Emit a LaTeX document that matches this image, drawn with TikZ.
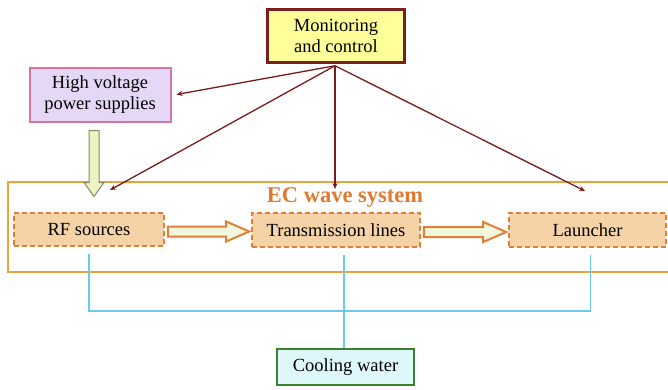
\documentclass[tikz,border=0pt]{standalone}
\usepackage{fontspec}
\setmainfont{Liberation Serif}
\usetikzlibrary{arrows.meta,calc}
\definecolor{montfill}{HTML}{FFFF99}
\definecolor{montdraw}{HTML}{7A1E1E}
\definecolor{hvfill}{HTML}{E4D8F6}
\definecolor{hvdraw}{HTML}{D9739F}
\definecolor{ctrl}{HTML}{7B1A1A}
\definecolor{hvafill}{HTML}{EEF3C4}
\definecolor{hvadraw}{HTML}{8A8A6A}
\definecolor{ecdraw}{HTML}{E8A33A}
\definecolor{ectitle}{HTML}{E07A2E}
\definecolor{subfill}{HTML}{F5D3A6}
\definecolor{subdraw}{HTML}{E07F35}
\definecolor{bafill}{HTML}{EFF8DC}
\definecolor{coolline}{HTML}{6BCBEA}
\definecolor{coolfill}{HTML}{DDF7FA}
\definecolor{cooldraw}{HTML}{3D7F2A}
\tikzset{
  box/.style={rectangle, inner sep=0pt, align=center, font=\fontsize{18.5}{21}\selectfont},
  subbox/.style={box, fill=subfill, draw=subdraw, line width=1.6pt, dash pattern=on 5pt off 3pt},
  ctrlarrow/.style={draw=ctrl, line width=1.3pt, -{Stealth[length=6pt,width=5pt]}},
  coolpipe/.style={draw=coolline, line width=1.2pt},
  blockarrow/.style={fill=bafill, draw=subdraw, line width=2pt, line join=miter},
}
\begin{document}
\begin{tikzpicture}[x=1pt,y=-1pt]
\useasboundingbox (0,0) rectangle (668,389);
\clip (0,0) rectangle (668,389);
% outer EC system box
\draw[ecdraw, line width=2pt] (8,182) rectangle (680,272);
\node[text=ectitle, font=\bfseries\fontsize{22.5}{25}\selectfont] (title) at (345,197.5) {EC wave system};
% nodes
\node[box, fill=montfill, draw=montdraw, line width=2.5pt, minimum width=137pt, minimum height=53pt] (mon) at (336,36) {Monitoring\\and control};
\node[box, fill=hvfill, draw=hvdraw, line width=2pt, minimum width=141pt, minimum height=54pt] (hv) at (100,94.5) {High voltage\\power supplies};
\node[subbox, minimum width=150pt, minimum height=33pt] (rf) at (89,229.5) {RF sources};
\node[subbox, minimum width=168pt, minimum height=34pt] (tl) at (336,230) {Transmission lines};
\node[subbox, minimum width=157pt, minimum height=34pt] (la) at (587.5,230) {Launcher};
\node[box, fill=coolfill, draw=cooldraw, line width=2pt, minimum width=137pt, minimum height=36pt] (cool) at (345.5,367) {Cooling water};
% control arrows
\coordinate (src) at ($(mon.south)+(-1,2)$);
\coordinate (hvend) at ($(hv.east)+(5,0)$);
\coordinate (rfend) at (110,190);
\coordinate (tlend) at (335,189);
\coordinate (laend) at (585,191);
\draw[ctrlarrow] (src) -- (hvend);
\draw[ctrlarrow] (src) -- (rfend);
\draw[ctrlarrow] (src) -- (tlend);
\draw[ctrlarrow] (src) -- (laend);
% HV power arrow
\coordinate (hvtop) at ($(hv.south)+(-6,8)$);
\draw[fill=hvafill, draw=hvadraw, line width=1pt]
  ($(hvtop)+(-5,0)$) -- ($(hvtop)+(5,0)$) -- ($(hvtop)+(5,52)$) -- ($(hvtop)+(10,52)$)
  -- ($(hvtop)+(0,66)$) -- ($(hvtop)+(-10,52)$) -- ($(hvtop)+(-5,52)$) -- cycle;
% block arrows between subsystems
\foreach \a/\b in {rf/tl, tl/la}{
  \coordinate (s) at ($(\a.east)+(3,2)$);
  \coordinate (e) at ($(\b.west)+(-2,2)$);
  \draw[blockarrow]
    let \p1=(s), \p2=(e) in
    (\x1,\y1-5) -- (\x2-23,\y1-5) -- (\x2-23,\y1-10) -- (\x2,\y1)
    -- (\x2-23,\y1+10) -- (\x2-23,\y1+5) -- (\x1,\y1+5) -- cycle;
}
% cooling pipes
\coordinate (rfc) at ($(rf.south)+(0,7)$);
\coordinate (tlc) at ($(tl.south)+(8,7)$);
\coordinate (lac) at ($(la.south)+(3,7)$);
\coordinate (rfb) at (rfc |- 0,311);
\coordinate (lab) at (lac |- 0,311);
\draw[coolpipe] (rfc) -- (rfb) -- (lab) -- (lac);
\draw[coolpipe] (tlc) -- (tlc |- cool.north);
\end{tikzpicture}
\end{document}
